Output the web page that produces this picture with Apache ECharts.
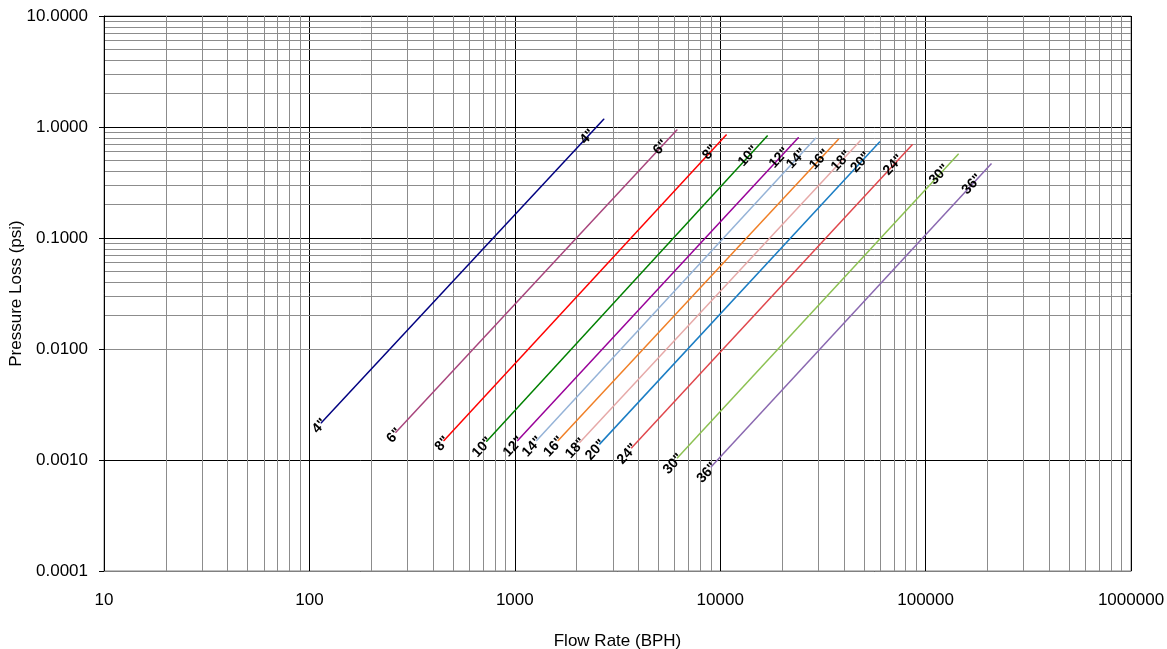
<!DOCTYPE html>
<html>
<head>
<meta charset="utf-8">
<script src="https://cdn.jsdelivr.net/npm/echarts@6/dist/echarts.min.js"></script>
<style>
html,body{margin:0;padding:0;background:#fff;}
#chart{width:1167px;height:649px;}
</style>
</head>
<body>
<div id="chart"></div>
<script>
// Pipe sizes and line endpoints
const sizes = ['4"', '6"', '8"', '10"', '12"', '14"', '16"', '18"', '20"', '24"', '30"', '36"'];
const flowStart = [114, 263, 451, 728, 1030, 1274, 1622, 2070, 2588, 3698, 6180, 9020];
const flowEnd = [2716, 6166, 10715, 16982, 24050, 29200, 37760, 48200, 59840, 86300, 144500, 208800];
const lossStart = [0.00215, 0.00177, 0.00149, 0.00147, 0.00149, 0.00149, 0.00149, 0.00144, 0.00139, 0.00128, 0.00104, 0.000865];
const lossEnd = [1.18, 0.946, 0.853, 0.835, 0.806, 0.796, 0.780, 0.757, 0.737, 0.697, 0.571, 0.467];
const colors = ['#000080', '#A8457C', '#FF0000', '#008000', '#990099', '#95B3D7', '#F07F26', '#E6A9A8', '#1A7DC4', '#E0474C', '#8CC152', '#8A68B0'];

// Axis ranges / tick settings
const xMin = 10, xMax = 1000000;
const yMin = 0.0001, yMax = 10;
const xDecades = [10, 100, 1000, 10000, 100000];
const yDecades = [0.0001, 0.001, 0.01, 0.1, 1];
const minorMultipliers = [2, 3, 4, 5, 6, 7, 8, 9];

const FONT = "'Liberation Sans', Arial, sans-serif";

const minorX = [];
xDecades.forEach(d => minorMultipliers.forEach(m => minorX.push({ xAxis: +(d * m).toPrecision(6) })));
const minorY = [];
yDecades.forEach(d => minorMultipliers.forEach(m => minorY.push({ yAxis: +(d * m).toPrecision(6) })));

const series = [{
  type: 'line',
  data: [],
  z: 0,
  silent: true,
  markLine: {
    z: 0,
    silent: true,
    symbol: ['none', 'none'],
    label: { show: false },
    animation: false,
    lineStyle: { color: '#8c8c8c', width: 1, type: 'solid' },
    data: minorX.concat(minorY)
  }
}];

sizes.forEach((name, i) => {
  series.push({
    name: name,
    type: 'line',
    z: 6,
    symbol: 'circle',
    symbolSize: 1,
    lineStyle: { color: colors[i], width: 1.5 },
    itemStyle: { color: colors[i] },
    label: {
      show: true,
      formatter: () => name,
      position: 'inside',
      rotate: 47,
      align: 'right',
      verticalAlign: 'middle',
      color: '#000',
      fontWeight: 'bold',
      fontSize: 14,
      fontFamily: FONT,
      textBorderWidth: 0,
      textBorderColor: 'transparent'
    },
    data: [
      { value: [flowStart[i], lossStart[i]], label: { offset: [4, 1] } },
      { value: [flowEnd[i], lossEnd[i]], label: { offset: [-17, 0] } }
    ]
  });
});

const chart = echarts.init(document.getElementById('chart'), null, { renderer: 'canvas' });
chart.setOption({
  animation: false,
  backgroundColor: '#fff',
  grid: {
    left: 104, right: 36, top: 16, bottom: 78,
    containLabel: false,
    outerBoundsMode: 'none',
    show: true, borderColor: '#808080', borderWidth: 1
  },
  xAxis: {
    type: 'log', logBase: 10, min: xMin, max: xMax,
    name: 'Flow Rate (BPH)', nameLocation: 'middle', nameGap: 62,
    nameTextStyle: { fontSize: 17, color: '#000', fontFamily: FONT },
    axisLine: { show: true, lineStyle: { color: '#808080', width: 1 } },
    axisTick: { show: false },
    axisLabel: {
      margin: 21, fontSize: 17, color: '#000', fontFamily: FONT,
      formatter: v => String(Math.round(v))
    },
    splitLine: { show: true, lineStyle: { color: '#000', width: 1 } },
    minorTick: { show: false }, minorSplitLine: { show: false }
  },
  yAxis: {
    type: 'log', logBase: 10, min: yMin, max: yMax,
    name: 'Pressure Loss (psi)', nameLocation: 'middle', nameGap: 79, nameRotate: 90,
    nameMoveOverlap: false,
    nameTextStyle: { fontSize: 17, color: '#000', fontFamily: FONT },
    axisLine: { show: true, lineStyle: { color: '#000', width: 1 } },
    axisTick: { show: true, inside: false, length: 5, lineStyle: { color: '#000' } },
    axisLabel: {
      margin: 16, fontSize: 17, color: '#000', fontFamily: FONT,
      formatter: v => Number(v).toFixed(4)
    },
    splitLine: { show: true, lineStyle: { color: '#000', width: 1 } },
    minorTick: { show: false }, minorSplitLine: { show: false }
  },
  series: series
});
</script>
</body>
</html>
